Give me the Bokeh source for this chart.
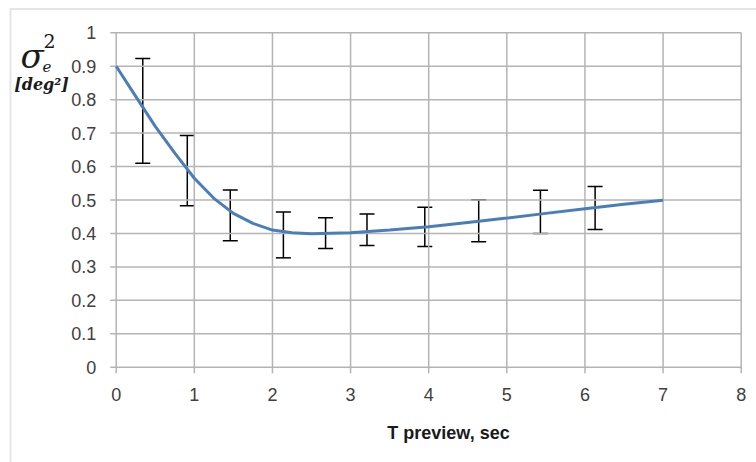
from bokeh.plotting import figure
from bokeh.models import (Whisker, TeeHead, ColumnDataSource, Label,
                          BoxAnnotation, Range1d)
from bokeh.core.properties import value
from bokeh.embed import file_html
from bokeh.resources import INLINE

# ---- data ----
curve_x = [0, 0.25, 0.5, 0.75, 1.0, 1.25, 1.5, 1.75, 2.0, 2.25, 2.5, 3.0, 3.5,
           4.0, 4.5, 5.0, 5.5, 6.0, 6.5, 7.0]
curve_y = [0.90, 0.81, 0.72, 0.64, 0.565, 0.505, 0.46, 0.43, 0.41, 0.402, 0.399,
           0.402, 0.41, 0.42, 0.433, 0.446, 0.46, 0.474, 0.487, 0.499]

bar_x = [0.34, 0.91, 1.46, 2.14, 2.68, 3.21, 3.95, 4.64, 5.43, 6.13]
bar_upper = [0.923, 0.693, 0.530, 0.464, 0.447, 0.458, 0.478, 0.501, 0.529, 0.540]
bar_lower = [0.610, 0.483, 0.378, 0.327, 0.355, 0.364, 0.361, 0.375, 0.400, 0.412]

x_ticks = [0, 1, 2, 3, 4, 5, 6, 7, 8]
x_tick_labels = ["0", "1", "2", "3", "4", "5", "6", "7", "8"]
y_ticks = [0, 0.1, 0.2, 0.3, 0.4, 0.5, 0.6, 0.7, 0.8, 0.9, 1.0]
y_tick_labels = ["0", "0.1", "0.2", "0.3", "0.4", "0.5", "0.6", "0.7", "0.8",
                 "0.9", "1"]
x_title = "T preview, sec"

# ---- styling / layout ----
W, H = 756, 462
PLOT_L, PLOT_R = 115.7, 740.7      # pixel position of x=0 and x=8
PLOT_B, PLOT_T = 366.7, 32.3       # pixel position of y=0 and y=1
KX = (PLOT_R - PLOT_L) / (x_ticks[-1] - x_ticks[0])
KY = (PLOT_B - PLOT_T) / (y_ticks[-1] - y_ticks[0])
TICK = 6

GRID = "#b4b4b4"
TXT = "#404040"
FONT = "Liberation Sans"
SERIF = "DejaVu Serif"

p = figure(width=W, height=H, output_backend="svg", toolbar_location=None,
           x_range=Range1d(-PLOT_L / KX, (W - PLOT_L) / KX),
           y_range=Range1d((PLOT_B - H) / KY, PLOT_B / KY),
           x_axis_location=None, y_axis_location=None, min_border=0)
p.outline_line_color = None
p.grid.visible = False
p.background_fill_color = "white"
p.border_fill_color = "white"

x0, x1 = x_ticks[0], x_ticks[-1]
y0, y1 = y_ticks[0], y_ticks[-1]

# grid lines (with the short outward tick stubs)
p.segment(x0=[x0 - TICK / KX] * len(y_ticks), x1=[x1] * len(y_ticks),
          y0=y_ticks, y1=y_ticks, line_color=GRID, line_width=1.5)
p.segment(x0=x_ticks, x1=x_ticks, y0=[y0 - TICK / KY] * len(x_ticks),
          y1=[y1] * len(x_ticks), line_color=GRID, line_width=1.5)

# tick labels
p.text(x=[x0 - 20 / KX] * len(y_ticks), y=y_ticks, text=y_tick_labels,
       text_font=value(FONT), text_font_size="18px", text_color=TXT,
       text_align="right", text_baseline="middle")
p.text(x=x_ticks, y=[y0 - 27 / KY] * len(x_ticks), text=x_tick_labels,
       text_font=value(FONT), text_font_size="18px", text_color=TXT,
       text_align="center", text_baseline="middle")

# data curve and error bars
p.line(curve_x, curve_y, line_color="#4a7ebb", line_width=3)

src = ColumnDataSource(dict(x=bar_x, upper=bar_upper, lower=bar_lower))
w = Whisker(base="x", upper="upper", lower="lower", source=src,
            line_color="black", line_width=1.5,
            upper_head=TeeHead(size=15, line_color="black", line_width=1.5),
            lower_head=TeeHead(size=15, line_color="black", line_width=1.5))
p.add_layout(w)

def ptext(px, py, text, **kw):
    # px, py: pixel position on the canvas (from top-left)
    p.text(x=[(px - PLOT_L) / KX], y=[(PLOT_B - py) / KY], text=[text],
           text_color="#1a1a1a", **kw)

# x axis title
ptext(448, 432, x_title, text_font=value(FONT), text_font_size="18px",
      text_font_style="bold", text_align="center", text_baseline="alphabetic")

# y axis label: sigma_e^2 [deg^2]
ptext(20, 55, "σ", text_font=value(SERIF), text_font_size="34px",
      text_font_style="italic", text_baseline="alphabetic")
ptext(43, 40, "2", text_font=value(SERIF), text_font_size="19px",
      text_baseline="alphabetic")
ptext(42, 66, "e", text_font=value(SERIF), text_font_size="15px",
      text_font_style="italic", text_baseline="alphabetic")
ptext(41, 84, "[deg²]", text_font=value(SERIF), text_font_size="16px",
      text_font_style="bold italic", text_align="center",
      text_baseline="alphabetic")

# outer chart border
p.add_layout(BoxAnnotation(left=10, right=W + 50, top=8.5, bottom=H + 50,
                           left_units="canvas", right_units="canvas",
                           top_units="canvas", bottom_units="canvas",
                           fill_alpha=0, line_color="#a6a6a6", line_width=2))

open("out.html", "w").write(file_html(p, INLINE))
